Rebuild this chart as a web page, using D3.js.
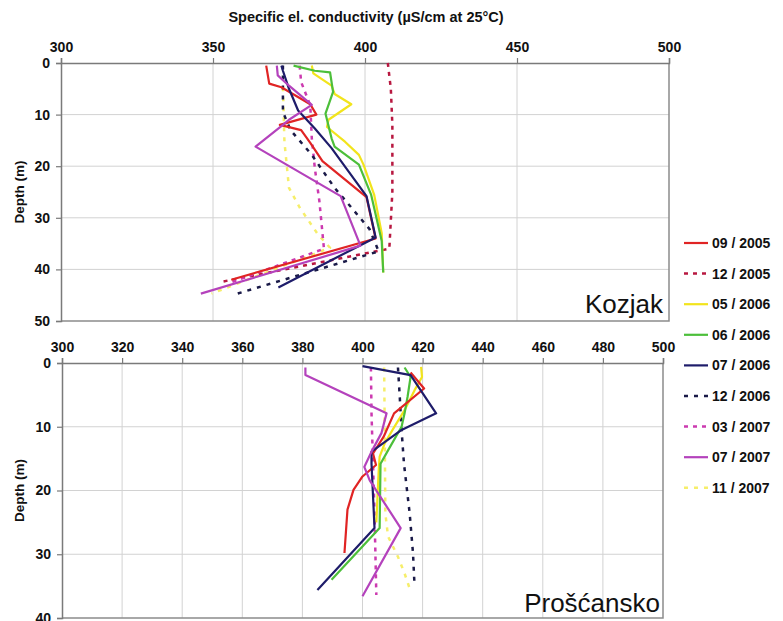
<!DOCTYPE html>
<html>
<head>
<meta charset="utf-8">
<script src="https://cdn.jsdelivr.net/npm/d3@7"></script>
<style>
  body { margin: 0; background: #fff; }
  svg { font-family: "Liberation Sans", Arial, sans-serif; }
</style>
</head>
<body>
<svg id="chart" width="783" height="621"></svg>
<script>
// legend / series labels
let seriesLabels = ['09 / 2005', '12 / 2005', '05 / 2006', '06 / 2006', '07 / 2006',
                    '12 / 2006', '03 / 2007', '07 / 2007', '11 / 2007'];

// Kozjak profiles: [conductivity, depth]
let kozjak0905 = [[367.5,0.5],[368.5,4],[372.5,4.7],[382,8],[384,10],[372,12],[379,13],[382,15.5],[386,19],[400.5,26],[403.5,34],[356,42]];
let kozjak1205 = [[407.5,0],[408.5,5],[409,12],[409,25],[408,36],[352,42.5]];
let kozjak0506 = [[382.5,0.5],[383,2],[389,4.4],[390,6],[395.5,8],[388,11],[387.5,12.4],[393.5,15.3],[398,17.8],[399.5,19.7],[403,25.5],[405.5,33],[406,40.6]];
let kozjak0606 = [[376.5,0.5],[383.5,1.5],[388.5,1.8],[389.5,5.6],[387,9.8],[389,14.6],[390,16.2],[398,19.7],[402,25.5],[405.5,34.5],[406,40.6]];
let kozjak0706 = [[372.5,0.5],[373,1.5],[375,5],[378,9.2],[383.5,12.7],[389,16.5],[400.5,25.8],[403.5,33.8],[371.5,43.5]];
let kozjak1206 = [[373,0.5],[373,9.5],[375.5,13],[382.5,17.8],[390,24.2],[395.5,28],[401.5,32.2],[404.5,36.5],[358,44.7]];
let kozjak0307 = [[378.5,0.5],[379,3.7],[382,8.2],[382.5,14.6],[383.5,20.4],[385,26.8],[386.5,36],[356,42.5]];
let kozjak0707 = [[371,0.5],[371.3,2.4],[375,4.4],[382.5,8.1],[375,11],[373,12],[364,16.2],[392,25.8],[398.5,35.4],[346,44.7]];
let kozjak1107 = [[373,4.7],[373.5,15.3],[375,24.2],[378.5,28],[384.5,33.2],[388.5,35.8],[349.5,44.7]];

// Proscansko profiles: [conductivity, depth]
let prosc0905 = [[416,1.5],[420.5,4],[410.5,7.9],[407,11.6],[403.5,14.2],[404.5,16],[400,17.8],[397,19.9],[395,23],[394,29.8]];
let prosc0506 = [[419.5,0.6],[419.8,2.2],[417.3,4.3],[414,7.4],[410,10.5],[407.4,12.6],[405.7,14.7],[405.4,16.8],[404.6,25]];
let prosc0606 = [[414,0.7],[416,2.2],[415,5.3],[414,7.9],[413,10],[408.5,13.7],[406,15.8],[405.7,25.9],[389.7,34]];
let prosc0706 = [[400,0.5],[416,1.9],[424.5,7.9],[413,10.5],[403,13.9],[403,15.8],[404,25.9],[385,35.6]];
let prosc1206 = [[411.8,0.7],[412.4,5.3],[413,10.5],[413.8,15.8],[415.7,23.6],[416.8,29.8],[417.3,34.8]];
let prosc0307 = [[402.8,0.7],[403,7.9],[403.5,15.8],[404,23.6],[404.6,36.4]];
let prosc0707 = [[381,0.7],[381,1.9],[408,7.9],[406.3,11],[403,13.9],[400.6,16.3],[402.4,18.4],[412.7,25.9],[400,36.6]];
let prosc1107 = [[407.2,0.7],[407.4,10.5],[407.6,23.6],[408.5,27.2],[411.8,30.4],[414,33],[416,35.8]];

// tick values
let kozjakXTicks = [300, 350, 400, 450, 500];
let kozjakYTicks = [0, 10, 20, 30, 40, 50];
let proscXTicks = [300, 320, 340, 360, 380, 400, 420, 440, 460, 480, 500];
let proscYTicks = [0, 10, 20, 30, 40];

// line styles per series label
let styles = {
    '09 / 2005': {color: '#e02424', dash: null},
    '12 / 2005': {color: '#b81840', dash: '4,5'},
    '05 / 2006': {color: '#f2e41c', dash: null},
    '06 / 2006': {color: '#4cbf3a', dash: null},
    '07 / 2006': {color: '#1e1c6a', dash: null},
    '12 / 2006': {color: '#1a1a48', dash: '4,6'},
    '03 / 2007': {color: '#cc3ab0', dash: '4,5'},
    '07 / 2007': {color: '#b442bc', dash: null},
    '11 / 2007': {color: '#f6ee6a', dash: '4,6'}
}

let svg = d3.select('#chart');

function getPanelConfig(left, right, top, bottom){
    return { left, right, top, bottom, width: right - left, height: bottom - top }
}

function getPanelScales(config, maxDepth){
    let xScale = d3.scaleLinear().domain([300, 500]).range([config.left, config.right]);
    let yScale = d3.scaleLinear().domain([0, maxDepth]).range([config.top, config.bottom]);
    return {xScale, yScale};
}

//draw grid, frame and axes of one panel
function drawPanelAxes(scales, config, xTicks, yTicks){
    let {xScale, yScale} = scales;
    let g = svg.append('g');

    g.selectAll('.vgrid').data(xTicks.slice(1, -1)).enter().append('line')
        .attr('x1', d => xScale(d)).attr('x2', d => xScale(d))
        .attr('y1', config.top).attr('y2', config.bottom)
        .attr('stroke', '#d2d2d2').attr('stroke-width', 1);
    g.selectAll('.hgrid').data(yTicks.slice(1, -1)).enter().append('line')
        .attr('x1', config.left).attr('x2', config.right)
        .attr('y1', d => yScale(d)).attr('y2', d => yScale(d))
        .attr('stroke', '#d2d2d2').attr('stroke-width', 1);

    // right and bottom border
    g.append('path')
        .attr('d', `M${config.right},${config.top}V${config.bottom}H${config.left}`)
        .attr('fill', 'none').attr('stroke', '#8c8c8c').attr('stroke-width', 1.5);

    let axisX = d3.axisTop(xScale).tickValues(xTicks).tickSize(5).tickPadding(6);
    let gx = g.append('g')
        .attr('transform', `translate(0,${config.top})`)
        .call(axisX);

    let axisY = d3.axisLeft(yScale).tickValues(yTicks).tickSize(5).tickPadding(6);
    let gy = g.append('g')
        .attr('transform', `translate(${config.left},0)`)
        .call(axisY);

    [gx, gy].forEach(a => {
        a.select('.domain').attr('stroke', '#7a7a7a').attr('stroke-width', 1.5);
        a.selectAll('.tick line').attr('stroke', '#7a7a7a').attr('stroke-width', 1.2);
        a.selectAll('.tick text')
            .attr('fill', '#111')
            .style('font-size', '14px')
            .style('font-weight', 'bold')
            .style('font-family', '"Liberation Sans", Arial, sans-serif');
    });

    g.append('text')
        .attr('transform', `translate(24,${(config.top + config.bottom) / 2}) rotate(-90)`)
        .attr('text-anchor', 'middle')
        .style('font-size', '13.5px').style('font-weight', 'bold')
        .attr('fill', '#111')
        .text('Depth (m)');
}

//draw profile lines of one panel
function drawPanelLines(scales, series){
    let {xScale, yScale} = scales;
    let line = d3.line().x(d => xScale(d[0])).y(d => yScale(d[1]));
    svg.append('g').selectAll('path')
        .data(series).enter().append('path')
        .attr('d', d => line(d.values))
        .attr('fill', 'none')
        .attr('stroke', d => styles[d.label].color)
        .attr('stroke-width', d => styles[d.label].dash ? 2.5 : 2.2)
        .attr('stroke-dasharray', d => styles[d.label].dash)
        .attr('stroke-linejoin', 'round');
}

function drawLegend(){
    let legend = svg.append('g');
    let rows = legend.selectAll('g').data(seriesLabels).enter().append('g')
        .attr('transform', (d, i) => `translate(684,${243 + i * 30.6})`);
    rows.append('line')
        .attr('x1', 0).attr('x2', 24)
        .attr('stroke', d => styles[d].color)
        .attr('stroke-width', d => styles[d].dash ? 2.5 : 2.2)
        .attr('stroke-dasharray', d => styles[d].dash);
    rows.append('text')
        .attr('x', 28).attr('dy', '0.35em')
        .style('font-size', '14px').style('font-weight', 'bold')
        .attr('fill', '#111')
        .text(d => d);
}

// top panel: Kozjak
let kozjakConfig = getPanelConfig(61, 669, 63, 321);
let kozjakScales = getPanelScales(kozjakConfig, 50);
drawPanelAxes(kozjakScales, kozjakConfig, kozjakXTicks, kozjakYTicks);
drawPanelLines(kozjakScales, [
    {label: '12 / 2005', values: kozjak1205},
    {label: '11 / 2007', values: kozjak1107},
    {label: '03 / 2007', values: kozjak0307},
    {label: '12 / 2006', values: kozjak1206},
    {label: '05 / 2006', values: kozjak0506},
    {label: '06 / 2006', values: kozjak0606},
    {label: '09 / 2005', values: kozjak0905},
    {label: '07 / 2006', values: kozjak0706},
    {label: '07 / 2007', values: kozjak0707}
]);
svg.append('text')
    .attr('x', 663).attr('y', 313).attr('text-anchor', 'end')
    .style('font-size', '26px').attr('fill', '#111')
    .text('Kozjak');

// bottom panel: Proscansko
let proscConfig = getPanelConfig(62, 663, 363, 618);
let proscScales = getPanelScales(proscConfig, 40);
drawPanelAxes(proscScales, proscConfig, proscXTicks, proscYTicks);
drawPanelLines(proscScales, [
    {label: '11 / 2007', values: prosc1107},
    {label: '03 / 2007', values: prosc0307},
    {label: '12 / 2006', values: prosc1206},
    {label: '05 / 2006', values: prosc0506},
    {label: '06 / 2006', values: prosc0606},
    {label: '09 / 2005', values: prosc0905},
    {label: '07 / 2006', values: prosc0706},
    {label: '07 / 2007', values: prosc0707}
]);
svg.append('text')
    .attr('x', 660).attr('y', 612).attr('text-anchor', 'end')
    .style('font-size', '26px').attr('fill', '#111')
    .text('Prošćansko');

// title
svg.append('text')
    .attr('x', 366).attr('y', 22).attr('text-anchor', 'middle')
    .style('font-size', '14.5px').style('font-weight', 'bold')
    .attr('fill', '#111')
    .text('Specific el. conductivity (µS/cm at 25°C)');

drawLegend();
</script>
</body>
</html>
